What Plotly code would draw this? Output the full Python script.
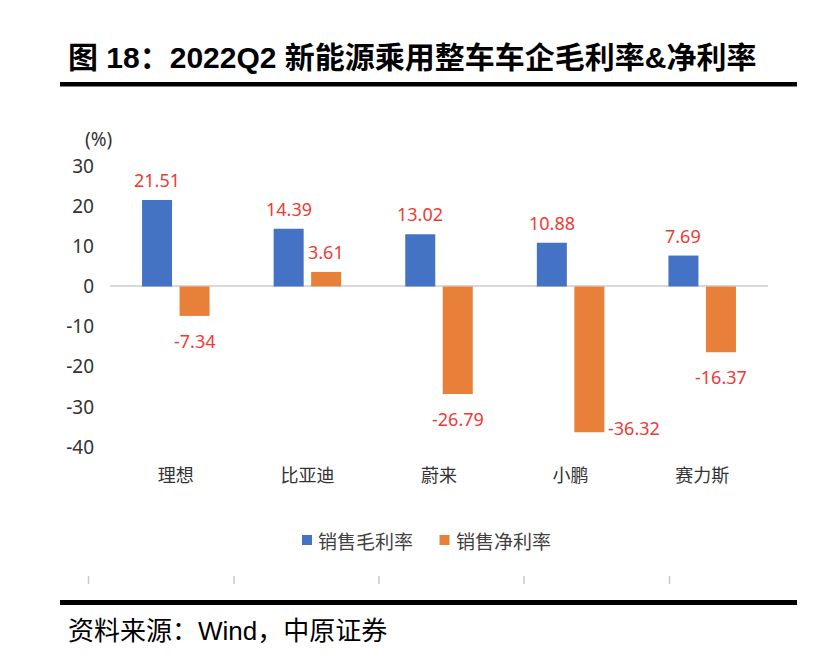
import plotly.graph_objects as go

# ---------------- data ----------------
categories = ["理想", "比亚迪", "蔚来", "小鹏", "赛力斯"]
gross_margin = [21.51, 14.39, 13.02, 10.88, 7.69]
net_margin = [-7.34, 3.61, -26.79, -36.32, -16.37]
series_names = ["销售毛利率", "销售净利率"]
y_tick_values = [30, 20, 10, 0, -10, -20, -30, -40]
y_tick_labels = ["30", "20", "10", "0", "-10", "-20", "-30", "-40"]
y_range = [-40, 30]
title_text = "图 18：2022Q2 新能源乘用整车车企毛利率&净利率"
source_text = "资料来源：Wind，中原证券"
unit_text = "(%)"

# ---------------- style ----------------
W, H = 827, 664
OFF = 8  # page body margin
L, R, T, B = 110, 768, 166, 447  # plot area in page pixels
BLUE = "#4472C4"
ORANGE = "#E8803A"
RED = "#EE3A35"
NUM_FONT = "Noto Sans, Noto Sans CJK SC"
CJK_FONT = "Noto Sans CJK SC, Noto Sans"
HEAD_FONT = "Liberation Sans, Noto Sans CJK SC"


def px(x):
    return (x - L) / (R - L)


def py(y):
    return (B - y) / (B - T)


fig = go.Figure()
fig.add_trace(go.Bar(x=categories, y=gross_margin, name=series_names[0],
                     marker=dict(color=BLUE, line=dict(width=0))))
fig.add_trace(go.Bar(x=categories, y=net_margin, name=series_names[1],
                     marker=dict(color=ORANGE, line=dict(width=0))))

annotations = []
shapes = []

# data labels
ppu = (B - T) / (y_range[1] - y_range[0])
bar_offset = 18.75
for series, sign in ((gross_margin, -1), (net_margin, 1)):
    for cat, v in zip(categories, series):
        if v >= 0:
            annotations.append(dict(x=cat, y=v, xref="x", yref="y", text=f"{v:.2f}",
                                    showarrow=False, xshift=sign * bar_offset, yshift=20,
                                    xanchor="center", yanchor="middle",
                                    font=dict(family=NUM_FONT, size=18, color=RED)))
        else:
            below = -v * ppu + 25 + 10
            if below > -y_range[0] * ppu:
                annotations.append(dict(x=cat, y=v, xref="x", yref="y", text=f"{v:.2f}",
                                        showarrow=False, xshift=sign * bar_offset + 16.5, yshift=4,
                                        xanchor="left", yanchor="middle",
                                        font=dict(family=NUM_FONT, size=18, color=RED)))
            else:
                annotations.append(dict(x=cat, y=v, xref="x", yref="y", text=f"{v:.2f}",
                                        showarrow=False, xshift=sign * bar_offset, yshift=-25,
                                        xanchor="center", yanchor="middle",
                                        font=dict(family=NUM_FONT, size=18, color=RED)))

# unit label
annotations.append(dict(x=px(98), y=py(139), xref="paper", yref="paper", text=unit_text,
                        showarrow=False, xanchor="center", yanchor="middle",
                        font=dict(family=NUM_FONT, size=19, color="#333333")))

# title
annotations.append(dict(x=px(66), y=py(58), xref="paper", yref="paper",
                        text=f"<b>{title_text}</b>", showarrow=False,
                        xanchor="left", yanchor="middle",
                        font=dict(family=HEAD_FONT, size=30, color="#000000")))

# source
annotations.append(dict(x=px(66), y=py(631), xref="paper", yref="paper",
                        text=source_text, showarrow=False,
                        xanchor="left", yanchor="middle",
                        font=dict(family=HEAD_FONT, size=26, color="#000000")))

# manual legend
legend_items = [(series_names[0], BLUE, 302), (series_names[1], ORANGE, 439.5)]
for name, color, x0 in legend_items:
    shapes.append(dict(type="rect", xref="paper", yref="paper",
                       x0=px(x0), x1=px(x0 + 10), y0=py(545), y1=py(535),
                       fillcolor=color, line=dict(width=0)))
    annotations.append(dict(x=px(x0 + 14), y=py(540), xref="paper", yref="paper",
                            text=name, showarrow=False, xanchor="left", yanchor="middle",
                            font=dict(family=CJK_FONT, size=19, color="#404040")))

# heavy rules
for y_top, y_bot in ((82, 86.5), (600, 605)):
    shapes.append(dict(type="rect", xref="paper", yref="paper",
                       x0=px(60), x1=px(797), y0=py(y_bot), y1=py(y_top),
                       fillcolor="#000000", line=dict(width=0)))

# faint tick marks of cropped chart below
for xm in (88.5, 234, 379, 524, 669.5):
    shapes.append(dict(type="line", xref="paper", yref="paper",
                       x0=px(xm), x1=px(xm), y0=py(584), y1=py(576),
                       line=dict(color="#C8C8C8", width=1.5)))

fig.update_layout(
    width=W, height=H,
    margin=dict(l=L - OFF, r=W - (R - OFF), t=T - OFF, b=H - (B - OFF), pad=0),
    paper_bgcolor="white", plot_bgcolor="white",
    barmode="group", bargap=0.43, bargroupgap=0.2,
    showlegend=False,
    annotations=annotations,
    shapes=shapes,
)
fig.update_yaxes(range=y_range, tickvals=y_tick_values, ticktext=y_tick_labels,
                 showgrid=False,
                 zeroline=True, zerolinecolor="#D9D9D9", zerolinewidth=2,
                 showline=False, ticks="", ticklabelstandoff=15,
                 tickfont=dict(family=NUM_FONT, size=19, color="#333333"))
fig.update_xaxes(showgrid=False, showline=False, ticks="", ticklabelstandoff=16,
                 tickfont=dict(family=CJK_FONT, size=18, color="#333333"))

fig.write_html("out.html")
